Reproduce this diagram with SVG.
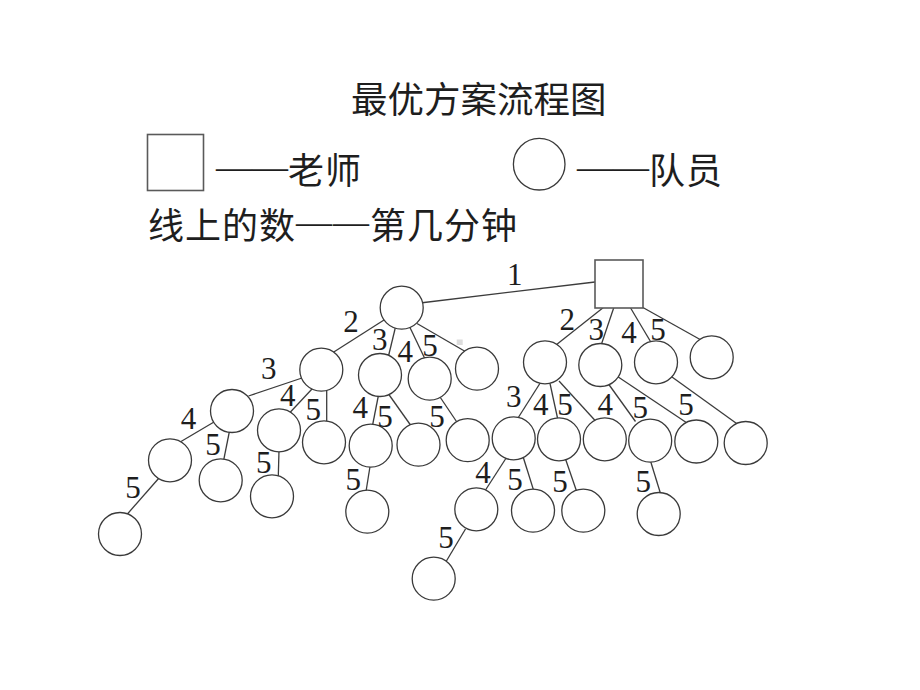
<svg xmlns="http://www.w3.org/2000/svg" width="920" height="690" viewBox="0 0 920 690">
<style>
.bg{fill:#ffffff}
.cjk{font-family:"Noto Sans CJK SC","Liberation Serif",sans-serif;font-size:36px;fill:#1e1e1e}
.d{font-family:"Liberation Serif","Times New Roman",serif}
.e{stroke:#3c3c3c;stroke-width:1.3;fill:none}
.n{fill:#ffffff;stroke:#3a3a3a;stroke-width:1.3}
.sq{fill:#ffffff;stroke:#5a5a5a;stroke-width:1.6}
.l{font-family:"Liberation Serif","Times New Roman",serif;font-size:31px;fill:#1e1e1e;text-anchor:middle}
</style>
<rect class="bg" x="0" y="0" width="920" height="690"/>

<g id="title"><text class="cjk" x="351" y="113" style="font-size:36.5px">最优方案流程图</text></g>
<g id="legend">
  <rect class="sq" x="147.5" y="134.5" width="56" height="56"/>
  <text class="cjk" x="216" y="184"><tspan class="d" dy="-5">——</tspan><tspan dy="5" letter-spacing="1">老师</tspan></text>
  <circle class="n" cx="539.2" cy="164.2" r="25.8"/>
  <text class="cjk" x="577" y="184"><tspan class="d" dy="-5">——</tspan><tspan dy="5" letter-spacing="1">队员</tspan></text>
  <text class="cjk" x="148" y="239" letter-spacing="1">线上的数<tspan class="d" dy="-5">——</tspan><tspan dy="5">第几分钟</tspan></text>
</g>
<rect x="456.7" y="339.5" width="6" height="5.5" fill="#dcdcdc"/>

<g id="connectors">
  <line class="e" x1="420" y1="303" x2="595" y2="282"/>
  <line class="e" x1="384" y1="320" x2="333" y2="352.5"/>
  <line class="e" x1="395.5" y1="327" x2="388.5" y2="356"/>
  <line class="e" x1="409.5" y1="326.5" x2="425" y2="359"/>
  <line class="e" x1="417" y1="323.5" x2="467" y2="352.5"/>
  <line class="e" x1="302" y1="378" x2="248.5" y2="396"/>
  <line class="e" x1="312" y1="389" x2="289.5" y2="413"/>
  <line class="e" x1="326.7" y1="390" x2="326.7" y2="423"/>
  <line class="e" x1="214" y1="422" x2="181" y2="441.5"/>
  <line class="e" x1="229.5" y1="431" x2="223.7" y2="460"/>
  <line class="e" x1="159" y1="478" x2="126.5" y2="515"/>
  <line class="e" x1="279" y1="450.5" x2="278.3" y2="476"/>
  <line class="e" x1="378.5" y1="395" x2="372.5" y2="425.5"/>
  <line class="e" x1="388.5" y1="394" x2="410.5" y2="425"/>
  <line class="e" x1="370" y1="466.5" x2="366" y2="491.5"/>
  <line class="e" x1="440" y1="397" x2="457.5" y2="423"/>
  <line class="e" x1="604" y1="307" x2="556" y2="345"/>
  <line class="e" x1="614" y1="307" x2="601.5" y2="344"/>
  <line class="e" x1="630" y1="307" x2="650.5" y2="341.5"/>
  <line class="e" x1="642" y1="307" x2="701" y2="340"/>
  <line class="e" x1="540.5" y1="382.5" x2="518" y2="418"/>
  <line class="e" x1="550" y1="383.5" x2="557.5" y2="418"/>
  <line class="e" x1="559" y1="381" x2="596" y2="421.5"/>
  <line class="e" x1="608.5" y1="384" x2="635.5" y2="421.5"/>
  <line class="e" x1="617.5" y1="376.5" x2="688.5" y2="424"/>
  <line class="e" x1="672" y1="377" x2="738" y2="424.5"/>
  <line class="e" x1="506.5" y1="457.5" x2="485.5" y2="490"/>
  <line class="e" x1="523" y1="456.5" x2="533.5" y2="490"/>
  <line class="e" x1="565.5" y1="459" x2="576.5" y2="491"/>
  <line class="e" x1="650.5" y1="461" x2="660.5" y2="493.5"/>
  <line class="e" x1="465.5" y1="529" x2="445.5" y2="562.5"/>
</g>

<g id="teacher"><rect class="sq" x="595" y="260" width="48" height="48"/></g>
<g id="nA"><circle class="n" cx="401.7" cy="307.7" r="21.5"/></g>
<g id="nB"><circle class="n" cx="321.3" cy="369.7" r="21.5"/></g>
<g id="nC"><circle class="n" cx="380" cy="375" r="21.5"/></g>
<g id="nD"><circle class="n" cx="429.7" cy="378.7" r="21.5"/></g>
<g id="nE"><circle class="n" cx="477" cy="368.7" r="21.5"/></g>
<g id="nF"><circle class="n" cx="232" cy="411" r="21.5"/></g>
<g id="nG"><circle class="n" cx="279" cy="430.3" r="21.5"/></g>
<g id="nH"><circle class="n" cx="324" cy="442.3" r="21.5"/></g>
<g id="nI"><circle class="n" cx="170" cy="460.3" r="21.5"/></g>
<g id="nJ"><circle class="n" cx="220.7" cy="480.3" r="21.5"/></g>
<g id="nK"><circle class="n" cx="120" cy="534" r="21.5"/></g>
<g id="nL"><circle class="n" cx="272" cy="496.3" r="21.5"/></g>
<g id="nM"><circle class="n" cx="370.7" cy="445.7" r="21.5"/></g>
<g id="nN"><circle class="n" cx="418.5" cy="444.7" r="21.5"/></g>
<g id="nO"><circle class="n" cx="467.7" cy="440.2" r="21.5"/></g>
<g id="nP"><circle class="n" cx="367.3" cy="511.7" r="21.5"/></g>
<g id="nT1"><circle class="n" cx="545" cy="362.3" r="21.5"/></g>
<g id="nT2"><circle class="n" cx="600.3" cy="365" r="21.5"/></g>
<g id="nT3"><circle class="n" cx="656" cy="362.3" r="21.5"/></g>
<g id="nT4"><circle class="n" cx="711.7" cy="357.3" r="21.5"/></g>
<g id="nS"><circle class="n" cx="513.7" cy="438.3" r="21.5"/></g>
<g id="nU"><circle class="n" cx="559" cy="439.3" r="21.5"/></g>
<g id="nV"><circle class="n" cx="604.8" cy="439.3" r="21.5"/></g>
<g id="nW"><circle class="n" cx="650.2" cy="440.7" r="21.5"/></g>
<g id="nX"><circle class="n" cx="696.3" cy="441.5" r="21.5"/></g>
<g id="nXX"><circle class="n" cx="745.7" cy="443" r="21.5"/></g>
<g id="nQ"><circle class="n" cx="476.3" cy="509.3" r="21.5"/></g>
<g id="nY"><circle class="n" cx="533" cy="510.7" r="21.5"/></g>
<g id="nZ"><circle class="n" cx="583.3" cy="510.7" r="21.5"/></g>
<g id="nAA"><circle class="n" cx="658.7" cy="514" r="21.5"/></g>
<g id="nR"><circle class="n" cx="433.7" cy="578.7" r="21.5"/></g>

<g id="labels">
  <text class="l" x="514.7" y="285">1</text>
  <text class="l" x="351" y="331.7">2</text>
  <text class="l" x="379.7" y="350">3</text>
  <text class="l" x="405.3" y="362.3">4</text>
  <text class="l" x="430" y="356">5</text>
  <text class="l" x="268.7" y="379">3</text>
  <text class="l" x="287.7" y="406">4</text>
  <text class="l" x="313.3" y="420">5</text>
  <text class="l" x="188.5" y="429.3">4</text>
  <text class="l" x="213" y="455">5</text>
  <text class="l" x="133" y="498.3">5</text>
  <text class="l" x="263.7" y="473.3">5</text>
  <text class="l" x="360.3" y="418.3">4</text>
  <text class="l" x="385" y="426.7">5</text>
  <text class="l" x="353.3" y="490">5</text>
  <text class="l" x="437" y="426.7">5</text>
  <text class="l" x="567.3" y="330">2</text>
  <text class="l" x="596.3" y="340">3</text>
  <text class="l" x="629" y="342.7">4</text>
  <text class="l" x="658" y="340">5</text>
  <text class="l" x="513.7" y="406.7">3</text>
  <text class="l" x="540.7" y="415">4</text>
  <text class="l" x="565" y="415">5</text>
  <text class="l" x="605.3" y="415">4</text>
  <text class="l" x="640.3" y="418.3">5</text>
  <text class="l" x="686" y="415">5</text>
  <text class="l" x="483" y="483.3">4</text>
  <text class="l" x="515" y="490">5</text>
  <text class="l" x="560" y="491.7">5</text>
  <text class="l" x="643.3" y="491.7">5</text>
  <text class="l" x="446" y="547.7">5</text>
</g>
</svg>
